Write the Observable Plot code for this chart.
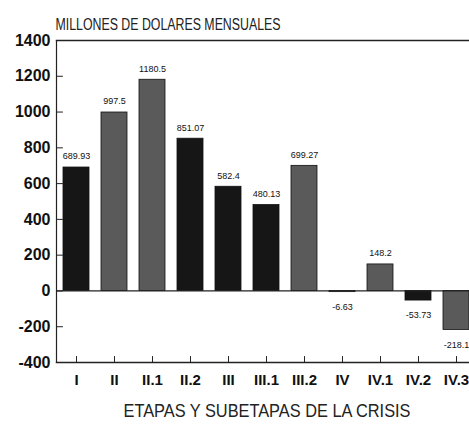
<!DOCTYPE html>
<html>
<head>
<meta charset="utf-8">
<script src="https://cdn.jsdelivr.net/npm/d3@7"></script>
<script src="https://cdn.jsdelivr.net/npm/@observablehq/plot@0.6"></script>
<style>
  html, body { margin: 0; padding: 0; background: #fff; }
  svg { display: block; }
</style>
</head>
<body>
<div id="chart"></div>
<script>
// Data
const categories = ["I", "II", "II.1", "II.2", "III", "III.1", "III.2", "IV", "IV.1", "IV.2", "IV.3"];
const values = [689.93, 997.5, 1180.5, 851.07, 582.4, 480.13, 699.27, -6.63, 148.2, -53.73, -218.1];
const valueLabels = ["689.93", "997.5", "1180.5", "851.07", "582.4", "480.13", "699.27", "-6.63", "148.2", "-53.73", "-218.1"];
const shades = ["oscuro", "gris", "gris", "oscuro", "oscuro", "oscuro", "gris", "gris", "gris", "oscuro", "gris"];
const yTicks = [-400, -200, 0, 200, 400, 600, 800, 1000, 1200, 1400];
const yTitle = "MILLONES DE DOLARES MENSUALES";
const xTitle = "ETAPAS Y SUBETAPAS DE LA CRISIS";

const data = categories.map((c, i) => ({cat: c, value: values[i], label: valueLabels[i], shade: shades[i]}));
const pos = data.filter(d => d.value >= 0);
const neg = data.filter(d => d.value < 0);

const tickShape = {draw(context, l) { context.moveTo(0, 0); context.lineTo(0, -l); }};

const W = 469, H = 426;
const mL = 56, mT = 40, mB = 64;

const chart = Plot.plot({
  width: W,
  height: H,
  marginLeft: mL,
  marginRight: 0,
  marginTop: mT,
  marginBottom: mB,
  style: {fontFamily: "Arial, 'Liberation Sans', sans-serif", background: "#fff", color: "#111"},
  x: {type: "band", domain: categories, range: [mL, mL + 11 * 38.2], paddingInner: 0.31, paddingOuter: 0.155, align: 0.5, axis: null},
  y: {domain: [-400, 1400], axis: null},
  color: {domain: ["oscuro", "gris"], range: ["#161616", "#5a5a5a"]},
  marks: [
    Plot.barY(data, {x: "cat", y: "value", fill: "shade", stroke: "#111", strokeWidth: 0.8}),
    Plot.ruleY([0], {stroke: "#222", strokeWidth: 1.2}),
    Plot.frame({anchor: "left", stroke: "#222", strokeWidth: 1.2}),
    Plot.frame({anchor: "top", stroke: "#222", strokeWidth: 1.4}),
    Plot.frame({anchor: "bottom", stroke: "#222", strokeWidth: 1.4}),
    // y ticks (inward) and labels
    Plot.vector(yTicks, {y: d => d, frameAnchor: "left", rotate: 90, anchor: "start", length: 6, shape: tickShape, stroke: "#222", strokeWidth: 1}),
    Plot.text(yTicks, {y: d => d, text: d => String(d), frameAnchor: "left", textAnchor: "end", dx: -6, fontSize: 16, fontWeight: "bold", fill: "#111"}),
    // x ticks (inward) and labels
    Plot.vector(categories, {x: d => d, frameAnchor: "bottom", rotate: 0, anchor: "start", length: 6, shape: tickShape, stroke: "#222", strokeWidth: 1}),
    Plot.text(categories, {x: d => d, text: d => d, frameAnchor: "bottom", dy: 22, fontSize: 15, fontWeight: "bold", fill: "#111"}),
    // value labels
    Plot.text(pos, {x: "cat", y: "value", text: "label", dy: -11, fontSize: 9, fill: "#111"}),
    Plot.text(neg, {x: "cat", y: "value", text: "label", dy: 15, fontSize: 9, fill: "#111"}),
    // titles
    Plot.text([yTitle], {text: d => d, frameAnchor: "top-left", textAnchor: "start", dx: -1, dy: -22, fontSize: 16, fontFamily: "'Liberation Sans Narrow', 'Arial Narrow', sans-serif", fill: "#222", className: "ytitle"}),
    Plot.text([xTitle], {text: d => d, frameAnchor: "bottom", dx: 4, dy: 54, fontSize: 19, fontFamily: "'Liberation Sans Narrow', 'Arial Narrow', sans-serif", fill: "#222", className: "xtitle"})
  ]
});

// Fit the condensed titles to the widths seen in the reference
d3.select(chart).selectAll(".ytitle text").attr("textLength", 225).attr("lengthAdjust", "spacingAndGlyphs");
d3.select(chart).selectAll(".xtitle text").attr("textLength", 287).attr("lengthAdjust", "spacingAndGlyphs");

document.getElementById("chart").appendChild(chart);
</script>
</body>
</html>
